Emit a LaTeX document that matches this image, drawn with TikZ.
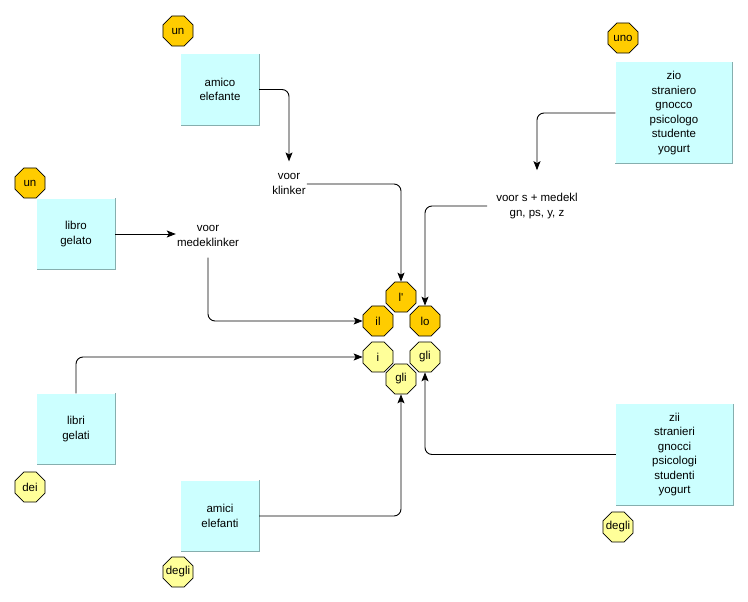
\documentclass[tikz,border=0pt]{standalone}
\usepackage{fontspec}
\setmainfont{Liberation Sans}
\usetikzlibrary{shapes.geometric,arrows.meta}
\definecolor{boxfill}{HTML}{CCFFFF}
\definecolor{boxedge}{HTML}{86AEAE}
\definecolor{artfill}{HTML}{FFCC00}
\definecolor{plfill}{HTML}{FFFF99}
\begin{document}
\begin{tikzpicture}[x=1pt,y=-1pt,
  every node/.style={font=\fontsize{11.5}{14.5}\selectfont},
  wordbox/.style={fill=boxfill, minimum width=78pt, minimum height=71pt, align=center, inner sep=0pt},
  bigbox/.style={wordbox, minimum width=117pt, minimum height=101pt},
  oct/.style={regular polygon, regular polygon sides=8, minimum size=32.5pt, inner sep=-4pt,
              draw=black, line width=0.7pt, font=\fontsize{11.5}{13}\selectfont},
  sing/.style={oct, fill=artfill},
  plur/.style={oct, fill=plfill},
  rule/.style={align=center, inner sep=0pt},
  link/.style={line width=0.9pt, rounded corners=7pt, -{Stealth[length=9pt,width=7pt,inset=2pt]}},
  edge/.style={boxedge, line width=0.8pt}
]
\useasboundingbox (0,0) rectangle (748,602);

% noun boxes
\node[wordbox] (amico) at (220,89.5) {amico\\elefante};
\node[wordbox] (libro) at (76,234) {libro\\gelato};
\node[bigbox]  (zio)   at (674,113) {zio\\straniero\\gnocco\\psicologo\\studente\\yogurt};
\node[wordbox] (libri) at (76,429) {libri\\gelati};
\node[wordbox] (amici) at (220,516) {amici\\elefanti};
\node[bigbox]  (zii)   at (674.5,454.5) {zii\\stranieri\\gnocci\\psicologi\\studenti\\yogurt};
\foreach \b in {amico,libro,zio,libri,amici,zii}
  \draw[edge] (\b.north east) -- (\b.south east) -- (\b.south west);

% article badges at the boxes
\node[sing] (unA)  at (178,31)  {un};
\node[sing] (unB)  at (30,183)  {un};
\node[sing] (uno)  at (623,38)  {uno};
\node[plur] (dei)  at (30,487)  {dei};
\node[plur] (degA) at (178,572) {degli};
\node[plur] (degB) at (618,527) {degli};

% rules
\node[rule] (vk) at (289,184) {voor\\klinker};
\node[rule] (vm) at (208,236) {voor\\medeklinker};
\node[rule] (vs) at (537,206) {voor s + medekl\\gn, ps, y, z};

% articles in the centre
\node[sing] (il)  at (378,321) {il};
\node[sing] (lp)  at (401,297) {l\textquotesingle};
\node[sing] (lo)  at (425,321) {lo};
\node[plur] (i)   at (378,357) {i};
\node[plur] (glr) at (425,357) {gli};
\node[plur] (glb) at (401,379) {gli};

% connectors
\draw[link] (amico.east) -| ([yshift=12pt]vk.north);
\draw[link] (libro.east) -- ([xshift=-1pt]libro.east -| vm.west);
\draw[link] ([yshift=-11pt]vm.south) |- (il.west);
\draw[link] ([xshift=1pt]vk.east) -| (lp.north);
\draw[link] ([xshift=-9pt]vs.west) -| (lo.north);
\draw[link] (zio.west) -| ([yshift=23pt]vs.north);
\draw[link] (libri.north) |- (i.west);
\draw[link] (amici.east) -| (glb.south);
\draw[link] (zii.west) -| (glr.south);
\end{tikzpicture}
\end{document}
